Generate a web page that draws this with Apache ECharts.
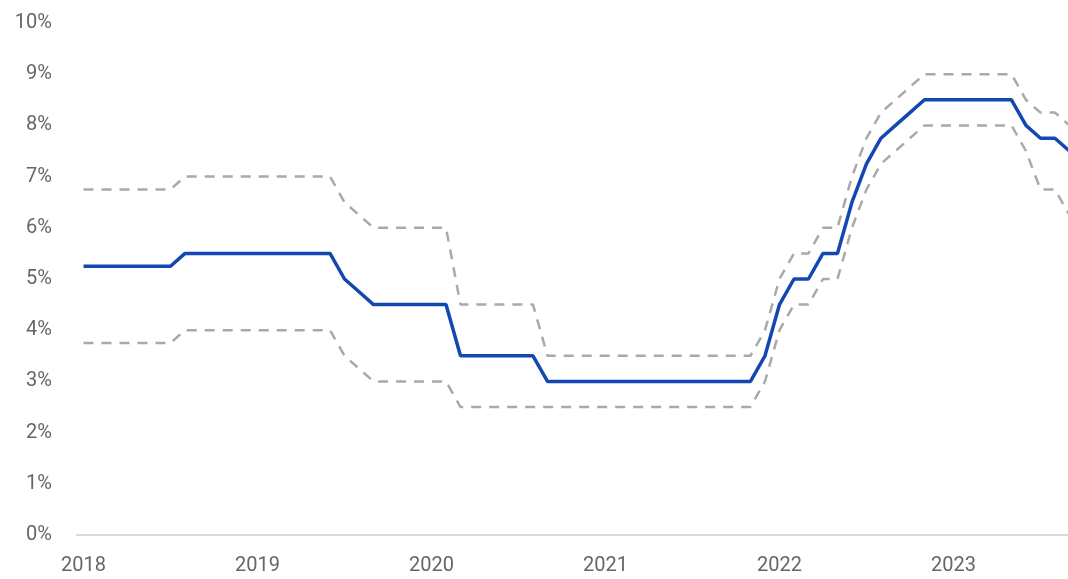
<!DOCTYPE html>
<html>
<head>
<meta charset="utf-8">
<script src="https://cdn.jsdelivr.net/npm/echarts@6/dist/echarts.min.js"></script>
<style>
  html, body { margin: 0; padding: 0; background: #ffffff; }
  #chart { width: 1068px; height: 579px; }
</style>
</head>
<body>
<div id="chart"></div>
<script>
var months = [
  "2018-01","2018-02","2018-03","2018-04","2018-05","2018-06","2018-07","2018-08","2018-09","2018-10","2018-11","2018-12",
  "2019-01","2019-02","2019-03","2019-04","2019-05","2019-06","2019-07","2019-08","2019-09","2019-10","2019-11","2019-12",
  "2020-01","2020-02","2020-03","2020-04","2020-05","2020-06","2020-07","2020-08","2020-09","2020-10","2020-11","2020-12",
  "2021-01","2021-02","2021-03","2021-04","2021-05","2021-06","2021-07","2021-08","2021-09","2021-10","2021-11","2021-12",
  "2022-01","2022-02","2022-03","2022-04","2022-05","2022-06","2022-07","2022-08","2022-09","2022-10","2022-11","2022-12",
  "2023-01","2023-02","2023-03","2023-04","2023-05","2023-06","2023-07","2023-08","2023-09"
];

var yearLabels = ["2018", "2019", "2020", "2021", "2022", "2023"];

var rate = [
  5.25,5.25,5.25,5.25,5.25,5.25,5.25,5.5,5.5,5.5,5.5,5.5,
  5.5,5.5,5.5,5.5,5.5,5.5,5.0,4.75,4.5,4.5,4.5,4.5,
  4.5,4.5,3.5,3.5,3.5,3.5,3.5,3.5,3.0,3.0,3.0,3.0,
  3.0,3.0,3.0,3.0,3.0,3.0,3.0,3.0,3.0,3.0,3.0,3.5,
  4.5,5.0,5.0,5.5,5.5,6.5,7.25,7.75,8.0,8.25,8.5,8.5,
  8.5,8.5,8.5,8.5,8.5,8.0,7.75,7.75,7.5
];

var upperBand = [
  6.75,6.75,6.75,6.75,6.75,6.75,6.75,7.0,7.0,7.0,7.0,7.0,
  7.0,7.0,7.0,7.0,7.0,7.0,6.5,6.25,6.0,6.0,6.0,6.0,
  6.0,6.0,4.5,4.5,4.5,4.5,4.5,4.5,3.5,3.5,3.5,3.5,
  3.5,3.5,3.5,3.5,3.5,3.5,3.5,3.5,3.5,3.5,3.5,4.0,
  5.0,5.5,5.5,6.0,6.0,7.0,7.75,8.25,8.5,8.75,9.0,9.0,
  9.0,9.0,9.0,9.0,9.0,8.5,8.25,8.25,8.0
];

var lowerBand = [
  3.75,3.75,3.75,3.75,3.75,3.75,3.75,4.0,4.0,4.0,4.0,4.0,
  4.0,4.0,4.0,4.0,4.0,4.0,3.5,3.25,3.0,3.0,3.0,3.0,
  3.0,3.0,2.5,2.5,2.5,2.5,2.5,2.5,2.5,2.5,2.5,2.5,
  2.5,2.5,2.5,2.5,2.5,2.5,2.5,2.5,2.5,2.5,2.5,3.0,
  4.0,4.5,4.5,5.0,5.0,6.0,6.75,7.25,7.5,7.75,8.0,8.0,
  8.0,8.0,8.0,8.0,8.0,7.5,6.75,6.75,6.25
];

var yMin = 0, yMax = 10, yStep = 1;

// month index of each January (position of year labels)
var yearPositions = yearLabels.map(function (y) { return months.indexOf(y + "-01"); });

function pairs(arr) { return arr.map(function (v, i) { return [i, v]; }); }

var chart = echarts.init(document.getElementById('chart'), null, { renderer: 'canvas' });

var dashStyle = { color: '#a9a9a9', width: 2.5, type: [10, 8] };

chart.setOption({
  animation: false,
  backgroundColor: '#ffffff',
  grid: { left: 77, right: 0, top: 23, bottom: 44, containLabel: false },
  xAxis: {
    type: 'value',
    min: -0.45,
    max: 67.9,
    axisLine: { show: true, onZero: false, lineStyle: { color: '#d9d9d9', width: 2 } },
    axisTick: { show: false },
    splitLine: { show: false },
    axisLabel: {
      customValues: yearPositions,
      margin: 21,
      color: '#666666',
      fontFamily: 'Roboto',
      fontSize: 20,
      formatter: function (v) { return months[Math.round(v)].substring(0, 4); }
    }
  },
  yAxis: {
    type: 'value',
    min: yMin,
    max: yMax,
    interval: yStep,
    axisLine: { show: false },
    axisTick: { show: false },
    splitLine: { show: false },
    axisLabel: {
      margin: 25,
      color: '#666666',
      fontFamily: 'Roboto',
      fontSize: 20,
      formatter: '{value}%'
    }
  },
  series: [
    { name: 'Upper', type: 'line', data: pairs(upperBand), symbol: 'none', lineStyle: dashStyle, z: 2 },
    { name: 'Lower', type: 'line', data: pairs(lowerBand), symbol: 'none', lineStyle: dashStyle, z: 2 },
    { name: 'Rate', type: 'line', data: pairs(rate), symbol: 'none',
      lineStyle: { color: '#1547b3', width: 3.5 }, z: 3 }
  ]
});
</script>
</body>
</html>
